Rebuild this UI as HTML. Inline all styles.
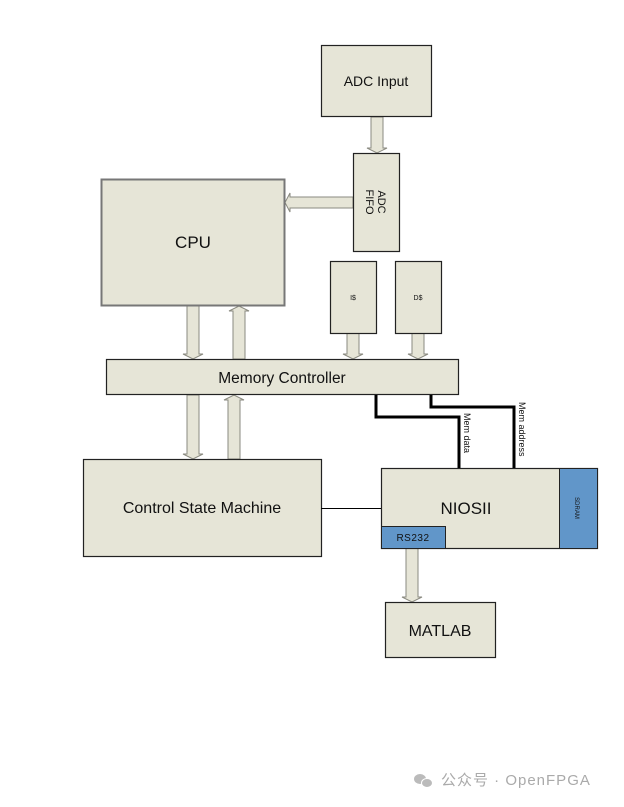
<!DOCTYPE html>
<html><head><meta charset="utf-8"><style>
html,body{margin:0;padding:0;background:#fff;}
svg{display:block;}
text{font-family:"Liberation Sans",Arial,sans-serif;fill:#111;}
</style></head><body>
<svg width="624" height="807" viewBox="0 0 624 807" xmlns="http://www.w3.org/2000/svg">
<defs>
<g id="ad"><path d="M-6,0 V-1 M-6,0" /></g>
</defs>
<g fill="#e6e5d7" stroke="#8a8a80" stroke-width="1">
<!-- fat arrows -->
<!-- ADC input -> FIFO -->
<path d="M371,117 H383 V148 H387 L377,153 L367,148 H371 Z"/>
<!-- FIFO -> CPU (left) -->
<path d="M353,197 V208 H290 V212 L285,202.5 L290,193 V197 Z"/>
<!-- CPU down -->
<path d="M187,306 H199 V354 H203 L193,359 L183,354 H187 Z"/>
<!-- CPU up -->
<path d="M233,359 H245 V311 H249 L239,306 L229,311 H233 Z"/>
<!-- I$ down -->
<path d="M347,333 H359 V354 H363 L353,359 L343,354 H347 Z"/>
<!-- D$ down -->
<path d="M412,333 H424 V354 H428 L418,359 L408,354 H412 Z"/>
<!-- MC down -->
<path d="M187,395 H199 V454 H203 L193,459 L183,454 H187 Z"/>
<!-- MC up -->
<path d="M228,459 H240 V400 H244 L234,395 L224,400 H228 Z"/>
<!-- RS232 -> MATLAB -->
<path d="M406,548 H418 V597 H422 L412,602 L402,597 H406 Z"/>
</g>
<g fill="#e6e5d7" stroke="#222" stroke-width="1.2">
<rect x="321.5" y="45.5" width="110" height="71"/>
<rect x="353.5" y="153.5" width="46" height="98"/>
<rect x="101.5" y="179.5" width="183" height="126" stroke="#777" stroke-width="2"/>
<rect x="330.5" y="261.5" width="46" height="72"/>
<rect x="395.5" y="261.5" width="46" height="72"/>
<rect x="106.5" y="359.5" width="352" height="35"/>
<rect x="83.5" y="459.5" width="238" height="97"/>
<rect x="381.5" y="468.5" width="216" height="80"/>
<rect x="385.5" y="602.5" width="110" height="55"/>
</g>
<rect x="559.5" y="468.5" width="38" height="80" fill="#6196c9" stroke="#222" stroke-width="1"/>
<rect x="381.5" y="526.5" width="64" height="22" fill="#6196c9" stroke="#222" stroke-width="1"/>
<g fill="none" stroke="#000" stroke-width="3">
<path d="M376,395 V417 H459 V468"/>
<path d="M431,395 V407 H514 V468"/>
</g>
<line x1="321" y1="508.5" x2="381" y2="508.5" stroke="#000" stroke-width="1"/>
<text x="376" y="86" font-size="14" text-anchor="middle">ADC Input</text>
<text x="193" y="248" font-size="17" text-anchor="middle">CPU</text>
<text x="282" y="383" font-size="15.5" text-anchor="middle">Memory Controller</text>
<text x="202" y="513" font-size="16" text-anchor="middle">Control State Machine</text>
<text x="466" y="514" font-size="17" text-anchor="middle">NIOSII</text>
<text x="440" y="636" font-size="16" text-anchor="middle">MATLAB</text>
<text x="413" y="541" font-size="10" text-anchor="middle" fill="#1a2a4a" letter-spacing="0.5">RS232</text>
<text x="353" y="300" font-size="7" text-anchor="middle">I$</text>
<text x="418" y="300" font-size="7" text-anchor="middle">D$</text>
<text transform="translate(376,202) rotate(90)" font-size="11" text-anchor="middle"><tspan x="0" y="-2">ADC</tspan><tspan x="0" y="10">FIFO</tspan></text>
<text transform="translate(575,508) rotate(90)" font-size="6" text-anchor="middle" fill="#1a2a4a">SDRAM</text>
<text transform="translate(464,413) rotate(90)" font-size="9" text-anchor="start">Mem data</text>
<text transform="translate(519,402) rotate(90)" font-size="9" text-anchor="start">Mem address</text>
<!-- watermark -->
<g fill="#bbb">
<ellipse cx="420" cy="779" rx="6" ry="5"/>
<ellipse cx="427" cy="783" rx="5.5" ry="4.5" stroke="#fff" stroke-width="1"/>
</g>
<text x="441" y="785" font-size="15" fill="#aaa" style="fill:#aaa;font-family:'Liberation Sans','Noto Sans CJK SC',sans-serif;" letter-spacing="1">公众号 · OpenFPGA</text>
</svg>
</body></html>
